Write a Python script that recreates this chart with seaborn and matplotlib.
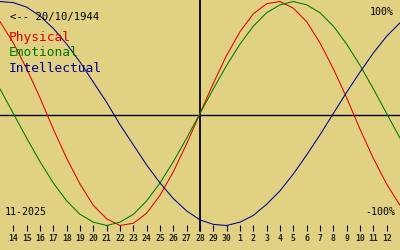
import matplotlib
matplotlib.use("Agg")
import matplotlib.pyplot as plt
import seaborn as sns
import pandas as pd

# Day positions: index 0 = 13 Nov 2025 ... 30 = 13 Dec 2025
day_index = list(range(31))
tick_positions = list(range(1, 30))
tick_labels = [str(d) for d in range(14, 31)] + [str(d) for d in range(1, 13)]

physical = [0.82, 0.63, 0.40, 0.14, -0.14, -0.40, -0.63, -0.82, -0.94, -1.00,
            -0.98, -0.89, -0.73, -0.52, -0.27, 0.00, 0.27, 0.52, 0.73, 0.89,
            0.98, 1.00, 0.94, 0.82, 0.63, 0.40, 0.14, -0.14, -0.40, -0.63, -0.82]
emotional = [0.22, 0.00, -0.22, -0.43, -0.62, -0.78, -0.90, -0.97, -1.00, -0.97,
             -0.90, -0.78, -0.62, -0.43, -0.22, 0.00, 0.22, 0.43, 0.62, 0.78,
             0.90, 0.97, 1.00, 0.97, 0.90, 0.78, 0.62, 0.43, 0.22, 0.00, -0.22]
intellectual = [1.00, 0.99, 0.95, 0.87, 0.76, 0.62, 0.46, 0.28, 0.10, -0.10,
                -0.28, -0.46, -0.62, -0.76, -0.87, -0.95, -0.99, -1.00, -0.97, -0.91,
                -0.81, -0.69, -0.54, -0.37, -0.19, 0.00, 0.19, 0.37, 0.54, 0.69, 0.81]

series_names = ["Physical", "Emotional", "Intellectual"]
series_colors = ["#e00000", "#007800", "#000090"]
birth_label = "<-- 20/10/1944"
month_label = "11-2025"

BG = "#e0d282"
FONT = "DejaVu Sans Mono"

df = pd.DataFrame({
    "day": day_index * 3,
    "value": physical + emotional + intellectual,
    "series": [series_names[0]] * 31 + [series_names[1]] * 31 + [series_names[2]] * 31,
})

sns.set_theme(style="white")
plt.rcParams["font.family"] = [FONT, "DejaVu Sans"]

fig = plt.figure(figsize=(4, 2.5), dpi=100)
fig.patch.set_facecolor(BG)
ax = fig.add_axes([0, 25 / 250, 1, 225 / 250])
ax.set_facecolor(BG)

sns.lineplot(data=df, x="day", y="value", hue="series", palette=series_colors,
             hue_order=series_names, linewidth=0.75, legend=False, ax=ax,
             clip_on=False)

center = 113.5
amp = 112.0
ax.set_xlim(0, 30)
ax.set_ylim(-(225 - center) / amp, center / amp)

# axes cross
ax.axhline(-(115 - center) / amp, color="black", lw=1.0, zorder=1)
ax.axvline(15, ymin=-6 / 225, ymax=1, color="black", lw=1.3, clip_on=False, zorder=1)

for s in ax.spines.values():
    s.set_visible(False)
ax.set_xlabel("")
ax.set_ylabel("")
ax.set_yticks([])
ax.set_xticks(tick_positions)
ax.set_xticklabels(tick_labels, fontsize=5.9, fontweight="bold", family=FONT)
ax.tick_params(axis="x", direction="out", length=4.3, width=0.8, color="black",
               pad=2.3, bottom=True)

def px(x, y):
    return x / 400, 1 - y / 250

fig.text(*px(10, 17), birth_label, fontsize=7.6, color="black", va="center", ha="left", family=FONT)
for name, col, yy in zip(series_names, series_colors, [38, 53, 68]):
    fig.text(*px(9, yy), name, fontsize=9.3, color=col, va="center", ha="left", family=FONT)
fig.text(*px(394, 12), "100%", fontsize=7.2, color="black", va="center", ha="right", family=FONT)
fig.text(*px(395, 212), "-100%", fontsize=7.2, color="black", va="center", ha="right", family=FONT)
fig.text(*px(5, 212), month_label, fontsize=7.2, color="black", va="center", ha="left", family=FONT)

fig.savefig("out.png", dpi=100, facecolor=BG)
